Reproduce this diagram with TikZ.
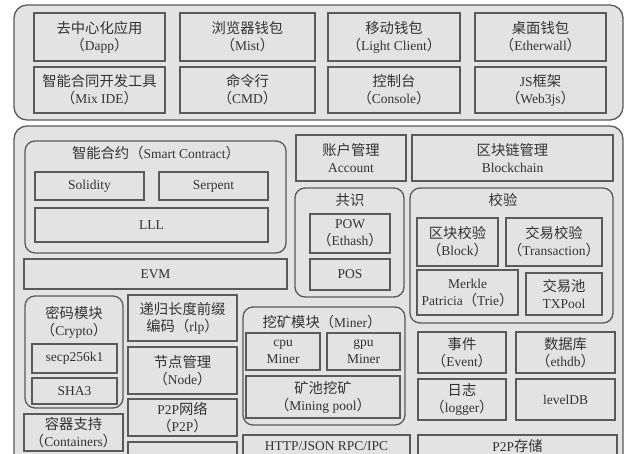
\documentclass[tikz,border=0pt]{standalone}
\usepackage{fontspec}
\setmainfont{Liberation Serif}
\newfontfamily\zhf[Scale=1.06]{Noto Sans CJK SC}
\newcommand\zh[1]{{\zhf #1}}
\newcommand\lp{\zh{（}}
\newcommand\rp{\zh{）}}
\definecolor{lc}{HTML}{5A5A5A}
\definecolor{fc}{HTML}{E3E3E3}
\definecolor{tc}{HTML}{333333}
\newcommand\bx[7][box]{%
  \pgfmathsetmacro\bxcx{(#3+#5)/2}%
  \pgfmathsetmacro\bxcy{(#4+#6)/2}%
  \pgfmathsetmacro\bxw{#5-#3}%
  \pgfmathsetmacro\bxh{#6-#4}%
  \node[#1,minimum width=\bxw pt,minimum height=\bxh pt] (#2) at (\bxcx,\bxcy) {#7};}
\tikzset{
  txt/.style={text=tc,align=center,font=\fontsize{13.5}{17}\selectfont},
  box/.style={txt,draw=lc,fill=fc,line width=1.3pt,inner sep=0pt},
  rbox/.style={box,rounded corners=10pt},
  obox/.style={box,rounded corners=13pt},
  lbl/.style={txt,inner sep=0pt}
}
\begin{document}
\begin{tikzpicture}[x=1pt,y=-1pt]
\useasboundingbox (0,0) rectangle (640,453);
\clip (0,0) rectangle (640,453);
\fill[white] (0,0) rectangle (640,453);
% top layer
\bx[obox]{top}{14}{5}{623}{120}{}
\bx{dapp}{34}{13}{165}{61}{\zh{去中心化应用}\\\lp Dapp\rp}
\bx{mist}{180}{13}{315}{61}{\zh{浏览器钱包}\\\lp Mist\rp}
\bx{light}{328}{13}{460}{61}{\zh{移动钱包}\\\lp Light Client\rp}
\bx{etherwall}{475}{13}{606}{61}{\zh{桌面钱包}\\\lp Etherwall\rp}
\bx{mixide}{34}{67}{165}{113}{\zh{智能合同开发工具}\\\lp Mix IDE\rp}
\bx{cmd}{180}{67}{315}{113}{\zh{命令行}\\\lp CMD\rp}
\bx{console}{328}{67}{460}{113}{\zh{控制台}\\\lp Console\rp}
\bx{web3js}{475}{67}{606}{113}{JS\zh{框架}\\\lp Web3js\rp}
% main layer
\bx[obox]{core}{14}{126}{623}{500}{}
\bx[rbox]{sc}{25}{141}{286}{253}{}
\node[lbl] (sctitle) at (156,153) {\zh{智能合约}\lp Smart Contract\rp};
\bx{solidity}{35}{172}{144}{200}{Solidity}
\bx{serpent}{159}{172}{268}{200}{Serpent}
\bx{lll}{35}{208}{268}{242}{LLL}
\bx{evm}{24}{259}{287}{289}{EVM}
\bx{account}{296}{135}{406}{181}{\zh{账户管理}\\Account}
\bx{blockchain}{412}{135}{613}{181}{\zh{区块链管理}\\Blockchain}
\bx[rbox]{consensus}{295}{188}{404}{297}{}
\node[lbl] (constitle) at (350,200) {\zh{共识}};
\bx{pow}{310}{214}{390}{253}{POW\\\lp Ethash\rp}
\bx{pos}{310}{259}{390}{290}{POS}
\bx[rbox]{verify}{410}{188}{613}{323}{}
\node[lbl] (vertitle) at (503,200) {\zh{校验}};
\bx{blockv}{417}{218}{498}{266}{\zh{区块校验}\\\lp Block\rp}
\bx{txv}{506}{218}{602}{266}{\zh{交易校验}\\\lp Transaction\rp}
\bx{merkle}{417}{270}{518}{315}{Merkle\\Patricia\lp Trie\rp}
\bx{txpool}{526}{273}{602}{315}{\zh{交易池}\\TXPool}
\bx[rbox]{crypto}{25}{296}{123}{408}{}
\node[lbl] (cryptitle) at (74,322) {\zh{密码模块}\\\lp Crypto\rp};
\bx{secp}{32}{344}{117}{373}{secp256k1}
\bx{sha}{32}{378}{117}{404}{SHA3}
\bx{containers}{24}{414}{123}{451}{\zh{容器支持}\\\lp Containers\rp}
\bx{rlp}{128}{295}{237}{341}{\zh{递归长度前缀}\\\zh{编码}\lp rlp\rp}
\bx{node}{128}{347}{237}{394}{\zh{节点管理}\\\lp Node\rp}
\bx{p2p}{128}{399}{237}{436}{P2P\zh{网络}\\\lp P2P\rp}
\bx{hidden}{128}{442}{237}{480}{}
\bx[rbox]{miner}{243}{307}{405}{425}{}
\node[lbl] (minertitle) at (322,322) {\zh{挖矿模块}\lp Miner\rp};
\bx{cpu}{246}{333}{320}{370}{cpu\\Miner}
\bx{gpu}{327}{333}{400}{370}{gpu\\Miner}
\bx{pool}{246}{376}{400}{418}{\zh{矿池挖矿}\\\lp Mining pool\rp}
\bx{http}{243}{435}{410}{457}{HTTP/JSON RPC/IPC}
\bx{event}{418}{332}{506}{373}{\zh{事件}\\\lp Event\rp}
\bx{ethdb}{516}{332}{615}{373}{\zh{数据库}\\\lp ethdb\rp}
\bx{logger}{418}{379}{506}{420}{\zh{日志}\\\lp logger\rp}
\bx{leveldb}{516}{379}{615}{420}{levelDB}
\bx{p2pstore}{418}{435}{617}{457}{P2P\zh{存储}}
\end{tikzpicture}
\end{document}
